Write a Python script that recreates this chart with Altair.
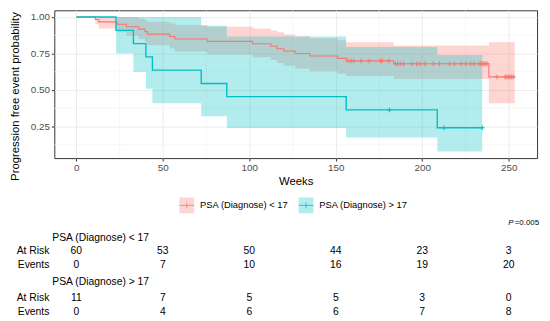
import altair as alt
import pandas as pd

# ---------------- data ----------------
groups = ["PSA (Diagnose) < 17", "PSA (Diagnose) > 17"]
colors = ["#F8766D", "#00BFC4"]

# Kaplan-Meier step curve, group "< 17"
red_t = [0, 11, 13, 23.5, 29, 36, 39.6, 41, 54, 57, 75.6, 102, 112.5, 116, 120, 126.5, 135, 151, 156, 183.5, 238.5, 253.5]
red_s = [1.0, 0.983, 0.967, 0.95, 0.933, 0.917, 0.90, 0.883, 0.867, 0.85, 0.833, 0.817, 0.80, 0.783, 0.767, 0.75, 0.733, 0.717, 0.70, 0.68, 0.59, 0.59]
red_hi = [1.0, 1.0, 1.0, 1.0, 1.0, 0.989, 0.979, 0.968, 0.957, 0.945, 0.933, 0.921, 0.907, 0.895, 0.881, 0.868, 0.855, 0.841, 0.827, 0.805, 0.827, 0.827]
red_lo = [1.0, 0.951, 0.922, 0.895, 0.871, 0.849, 0.827, 0.806, 0.785, 0.764, 0.744, 0.724, 0.705, 0.686, 0.667, 0.648, 0.629, 0.611, 0.597, 0.575, 0.41, 0.41]

# Kaplan-Meier step curve, group "> 17"
cyan_t = [0, 22.9, 33, 40.2, 44, 72.2, 87, 156, 208.7, 234.7]
cyan_s = [1.0, 0.909, 0.818, 0.727, 0.636, 0.545, 0.455, 0.364, 0.242, 0.242]
cyan_hi = [1.0, 1.0, 1.0, 1.0, 1.0, 0.94, 0.866, 0.794, 0.74, 0.74]
cyan_lo = [1.0, 0.75, 0.623, 0.509, 0.41, 0.32, 0.24, 0.175, 0.08, 0.08]

# censoring marks
red_cens_t = [157.0, 158.9, 160.4, 164.6, 169.3, 176.0, 176.9, 180.7,
              184.5, 185.8, 187.3, 189.2, 193.9, 196.8, 198.7, 201.5, 206.3, 210.0, 215.7, 218.6,
              222.3, 225.2, 228.0, 229.9, 232.8, 233.7, 234.7, 235.6, 236.5, 237.5,
              243.2, 247.9, 248.9, 249.8, 250.7, 251.7, 252.7]
red_cens_s = [0.70] * 8 + [0.68] * 22 + [0.59] * 7
cyan_cens_t = [181.0, 212.5, 234.7]
cyan_cens_s = [0.364, 0.242, 0.242]

# axes
weeks_ticks = [0, 50, 100, 150, 200, 250]
prob_ticks = [0.25, 0.50, 0.75, 1.00]
minor_x = [25, 75, 125, 175, 225]
minor_y = [0.125, 0.375, 0.625, 0.875]

# risk table
table_t = [0, 50, 100, 150, 200, 250]
risk_low = [60, 53, 50, 44, 23, 3]
events_low = [0, 7, 10, 16, 19, 20]
risk_high = [11, 7, 5, 5, 3, 0]
events_high = [0, 4, 6, 6, 7, 8]
row_labels = ["At Risk", "Events"]
p_label = "P"
p_text = "=0.005"

# ---------------- chart ----------------
FONT = "Liberation Sans"
xscale = alt.Scale(domain=[-12.75, 266.4], nice=False, zero=False)
yscale = alt.Scale(domain=[0.034, 1.046], nice=False, zero=False)
xaxis = alt.Axis(values=weeks_ticks, title="Weeks", grid=True, gridColor="#EBEBEB", gridWidth=1,
                 domain=False, tickColor="#333333", tickSize=3, labelPadding=2, labelFontSize=10,
                 labelColor="#4D4D4D", labelFont=FONT, titleFont=FONT, titleFontSize=11.5,
                 titleFontWeight="normal", titleColor="black", titlePadding=3)
yaxis = alt.Axis(values=prob_ticks, format=".2f", title="Progression free event probability",
                 grid=True, gridColor="#EBEBEB", gridWidth=1, domain=False, tickColor="#333333",
                 tickSize=3, labelPadding=2, labelFontSize=10, labelColor="#4D4D4D", labelFont=FONT,
                 titleFont=FONT, titleFontSize=11.5, titleFontWeight="normal", titleColor="black",
                 titlePadding=10, titleY=87)


def X(field="t"):
    return alt.X(f"{field}:Q", scale=xscale, axis=xaxis)


def Y(field):
    return alt.Y(f"{field}:Q", scale=yscale, axis=yaxis)


red = pd.DataFrame({"t": red_t, "s": red_s, "lo": red_lo, "hi": red_hi})
cyan = pd.DataFrame({"t": cyan_t, "s": cyan_s, "lo": cyan_lo, "hi": cyan_hi})
red_c = pd.DataFrame({"t": red_cens_t, "s": red_cens_s})
cyan_c = pd.DataFrame({"t": cyan_cens_t, "s": cyan_cens_s})

minor_xr = alt.Chart(pd.DataFrame({"t": minor_x})).mark_rule(color="#F3F3F3", strokeWidth=0.7).encode(x=X())
minor_yr = alt.Chart(pd.DataFrame({"s": minor_y})).mark_rule(color="#F3F3F3", strokeWidth=0.7).encode(y=Y("s"))

red_band = alt.Chart(red).mark_area(interpolate="step-after", color=colors[0], opacity=0.3).encode(
    x=X(), y=Y("lo"), y2="hi")
cyan_band = alt.Chart(cyan).mark_area(interpolate="step-after", color=colors[1], opacity=0.3).encode(
    x=X(), y=Y("lo"), y2="hi")
red_line = alt.Chart(red).mark_line(interpolate="step-after", color=colors[0], strokeWidth=1.1).encode(
    x=X(), y=Y("s"))
cyan_line = alt.Chart(cyan).mark_line(interpolate="step-after", color=colors[1], strokeWidth=1.4).encode(
    x=X(), y=Y("s"))
cross = "M0,-1L0,1M-1,0L1,0"
red_cross = alt.Chart(red_c).mark_point(shape=cross, filled=False, size=25, strokeWidth=1,
                                        color=colors[0], opacity=1).encode(x=X(), y=Y("s"))
cyan_cross = alt.Chart(cyan_c).mark_point(shape=cross, filled=False, size=25, strokeWidth=1,
                                          color=colors[1], opacity=1).encode(x=X(), y=Y("s"))

one = pd.DataFrame({"a": [0]})

# legend (below the plot)
legend_layers = []
key_x = [127, 248]
for i in range(2):
    kx = key_x[i]
    legend_layers.append(alt.Chart(one).mark_rect(color=colors[i], opacity=0.3).encode(
        x=alt.value(kx), x2=alt.value(kx + 15), y=alt.value(190), y2=alt.value(206)))
    legend_layers.append(alt.Chart(one).mark_rule(color=colors[i], strokeWidth=1, opacity=0.8).encode(
        x=alt.value(kx), x2=alt.value(kx + 15), y=alt.value(198)))
    legend_layers.append(alt.Chart(one).mark_rule(color=colors[i], strokeWidth=1, opacity=0.8).encode(
        x=alt.value(kx + 7.5), y=alt.value(195), y2=alt.value(201)))
    legend_layers.append(alt.Chart(pd.DataFrame({"lab": [groups[i]]})).mark_text(
        align="left", baseline="middle", font=FONT, fontSize=9.5, color="black").encode(
        x=alt.value(kx + 21), y=alt.value(198), text="lab:N"))

# p value
p_layers = [
    alt.Chart(pd.DataFrame({"lab": [p_text]})).mark_text(
        align="right", baseline="middle", font=FONT, fontSize=8, color="black").encode(
        x=alt.value(492), y=alt.value(216), text="lab:N"),
    alt.Chart(pd.DataFrame({"lab": [p_label]})).mark_text(
        align="right", baseline="middle", font=FONT, fontSize=8, fontStyle="italic", color="black").encode(
        x=alt.value(466), y=alt.value(216), text="lab:N"),
]

# risk table
table_layers = []
blocks = [(groups[0], risk_low, events_low, 231.5, [244.5, 258.5]),
          (groups[1], risk_high, events_high, 275.5, [292.0, 306.0])]
for name, risk, ev, y0, rows_y in blocks:
    table_layers.append(alt.Chart(pd.DataFrame({"lab": [name]})).mark_text(
        align="left", baseline="middle", font=FONT, fontSize=10.5, color="black").encode(
        x=alt.value(-2), y=alt.value(y0), text="lab:N"))
    for j, vals in enumerate([risk, ev]):
        yy = rows_y[j]
        table_layers.append(alt.Chart(pd.DataFrame({"lab": [row_labels[j]]})).mark_text(
            align="right", baseline="middle", font=FONT, fontSize=10.5, color="black").encode(
            x=alt.value(-5), y=alt.value(yy), text="lab:N"))
        table_layers.append(alt.Chart(pd.DataFrame({"t": table_t, "v": vals})).mark_text(
            align="center", baseline="middle", font=FONT, fontSize=10.5, color="black").encode(
            x=X(), y=alt.value(yy), text="v:Q"))

chart = alt.layer(
    minor_xr, minor_yr, red_band, cyan_band, red_line, cyan_line, red_cross, cyan_cross,
    *legend_layers, *p_layers, *table_layers
).properties(
    width=490, height=150,
    autosize=alt.AutoSizeParams(type="none"),
    padding={"left": 47, "top": 0, "right": 5, "bottom": 163},
).configure_view(stroke="#333333", strokeWidth=1)

chart.save("out.html", embed_options={"renderer": "svg", "actions": False})
